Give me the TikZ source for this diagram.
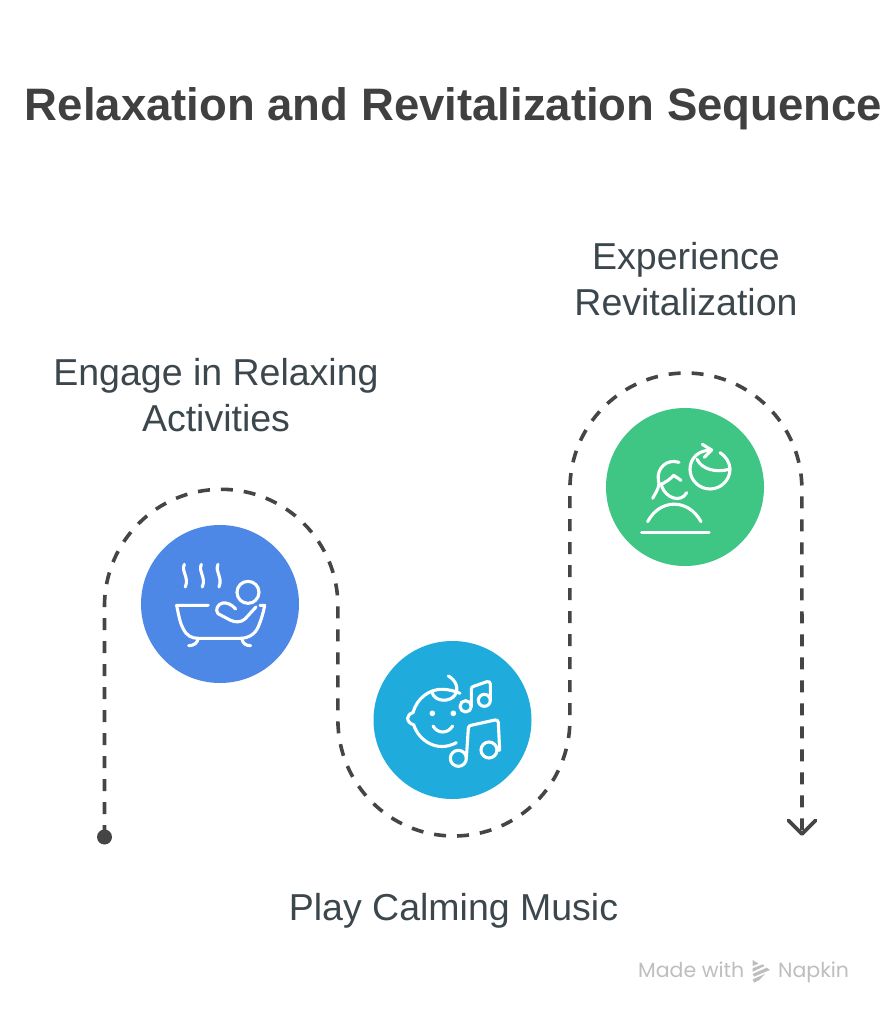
\documentclass[tikz,border=0pt]{standalone}
\usepackage{fontspec}
\setmainfont{Liberation Sans}
\newfontfamily\markfont{Poppins}
\usetikzlibrary{arrows.meta}
\definecolor{inkdark}{HTML}{454545}
\definecolor{titlecol}{HTML}{404040}
\definecolor{labelcol}{HTML}{3C474D}
\definecolor{bluecol}{HTML}{4E88E7}
\definecolor{cyancol}{HTML}{1FACDD}
\definecolor{greencol}{HTML}{3FC685}
\definecolor{markcol}{HTML}{BDBFBE}
\tikzset{
 disc/.style={circle,minimum size=158pt,inner sep=0pt,outer sep=0pt},
 label text/.style={anchor=base,text=labelcol,font=\fontsize{37.5}{37.5}\selectfont,inner sep=0pt},
 route/.style={draw=inkdark,line width=3.6pt,dash pattern=on 12pt off 11pt},
 icon/.style={draw=white,line width=3.1pt,line cap=round,line join=round},
 zoomed/.style={x=0.3333pt,y=-0.3333pt},
}
\begin{document}
\begin{tikzpicture}[x=1pt,y=-1pt]
\useasboundingbox (0,0) rectangle (895,1024);
\fill[white] (0,0) rectangle (895,1024);
\node[anchor=base,text=titlecol,font=\fontsize{45.5}{45.5}\selectfont\bfseries,inner sep=0pt] (title) at (453.500,121) {Relaxation and Revitalization Sequence};
\node[label text] (l1a) at (216,385.500) {Engage in Relaxing};
\node[label text] (l1b) at (216,431.500) {Activities};
\node[label text] (l2) at (453.500,920.500) {Play Calming Music};
\node[label text] (l3a) at (686,269.500) {Experience};
\node[label text] (l3b) at (686,315.500) {Revitalization};
\node[disc,fill=bluecol] (bath) at (220,604) {};
\node[disc,fill=cyancol] (baby) at (452.500,720) {};
\node[disc,fill=greencol] (renew) at (685,487) {};
\node[circle,fill=inkdark,minimum size=15pt,inner sep=0pt,outer sep=0pt] (start) at (104.500,837) {};
\coordinate (finish) at (802,834);
\draw[route] (start.center) -- (104.500,606) arc[start angle=180,end angle=0,radius=116.700,y radius=-116.700]
  -- (337.900,720) arc[start angle=180,end angle=360,radius=116,y radius=-116]
  -- (569.900,489) arc[start angle=180,end angle=0,radius=116,y radius=-116] -- (finish);
\draw[draw=inkdark,line width=3.6pt,line cap=round,line join=round] (788.500,820.500) -- (finish) -- (815.500,820.500);
% bath
\begin{scope}[shift={(130,515)},zoomed]
\foreach \d in {0,51,101}{
 \draw[icon] (163+\d,148) .. controls (153+\d,172) and (178+\d,185) .. (166+\d,216);
}
\draw[icon] (235,271) -- (140,271) .. controls (146,300) and (150,325) .. (160,342) .. controls (170,362) and (185,370) .. (205,370) -- (330,370) .. controls (355,370) and (375,358) .. (385,335) .. controls (392,318) and (400,295) .. (404,271) -- (390,271);
\draw[icon] (176,392) .. controls (192,392) and (202,384) .. (204,372);
\draw[icon] (362,392) .. controls (346,392) and (338,384) .. (336,372);
\draw[icon] (354,232) circle[radius=33];
\draw[icon] (317,282) .. controls (305,268) and (290,262) .. (278,264) .. controls (262,268) and (255,285) .. (264,296) -- (300,315) .. controls (315,323) and (332,323) .. (345,312) -- (378,276);
\end{scope}
% baby and notes
\begin{scope}[shift={(365,630)},zoomed]
\draw[icon] (274,338) .. controls (215,370) and (160,330) .. (146,284) .. controls (134,282) and (128,272) .. (128,265) .. controls (128,258) and (134,250) .. (144,248) .. controls (155,205) and (195,175) .. (235,178) .. controls (252,179) and (270,183) .. (285,190);
\draw[icon] (250,138) .. controls (272,150) and (283,175) .. (270,195) .. controls (258,215) and (210,220) .. (200,185);
\fill[white] (202,250) circle[radius=8.500] (265,250) circle[radius=8.500];
\draw[icon] (204,288) .. controls (218,312) and (248,312) .. (263,288);
\draw[icon] (302,229) circle[radius=17];
\draw[icon] (358,211) circle[radius=18];
\draw[icon] (319,226) -- (319,178) .. controls (319,172) and (322,170) .. (326,169) -- (366,155) .. controls (372,153) and (376,157) .. (376,162) -- (376,211);
\draw[icon] (280,385) circle[radius=24];
\draw[icon] (372,360) circle[radius=24];
\draw[icon] (304,385) -- (310,295) .. controls (310,290) and (313,287) .. (318,286) -- (390,270) .. controls (396,269) and (400,272) .. (400,278) -- (404,360) -- (396,360);
\end{scope}
% renew
\begin{scope}[shift={(595,400)},zoomed]
\draw[icon] (173,295) .. controls (190,265) and (195,255) .. (190,240) .. controls (185,205) and (215,175) .. (252,187);
\draw[icon] (192,255) .. controls (210,250) and (228,235) .. (236,226) -- (258,241);
\draw[icon] (200,258) .. controls (212,295) and (258,310) .. (275,278);
\draw[icon] (158,365) .. controls (195,295) and (280,295) .. (318,365);
\draw[icon] (140,398) -- (342,398);
\draw[icon] (350,150) .. controls (310,150) and (285,175) .. (285,208) .. controls (285,240) and (312,267) .. (345,267) .. controls (378,267) and (405,240) .. (405,208) .. controls (405,188) and (392,168) .. (375,158);
\draw[icon] (322,133) -- (350,150) -- (328,172);
\draw[icon] (306,178) .. controls (320,208) and (365,220) .. (405,207);
\end{scope}
% watermark
\node[anchor=base west,text=markcol,font=\markfont\fontsize{20.500}{20.500}\selectfont,inner sep=0pt] (made) at (638,977) {Made with};
\node[anchor=base west,text=markcol,font=\markfont\fontsize{20.500}{20.500}\selectfont,inner sep=0pt] (napkin) at (778,977) {Napkin};
\begin{scope}[shift={(630,800)},zoomed]
\fill[markcol] (368,480) -- (386,491) -- (368,498) -- cycle;
\fill[markcol] (368,505) -- (398,493) -- (404,498) -- (368,515) -- cycle;
\fill[markcol] (368,522) -- (410,503) -- (420,510) -- (372,530) -- cycle;
\fill[markcol] (368,538) -- (405,522) -- (388,540) -- (372,548) -- cycle;
\end{scope}
\end{tikzpicture}
\end{document}
